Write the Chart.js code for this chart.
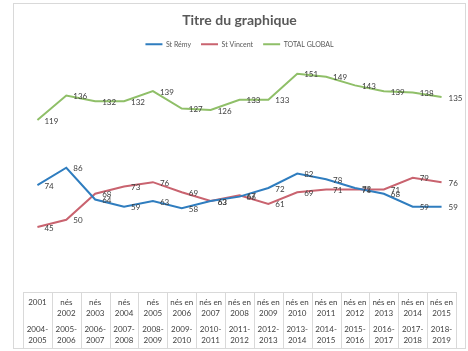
<!DOCTYPE html>
<html>
<head>
<meta charset="utf-8">
<script src="https://cdn.jsdelivr.net/npm/chart.js@4"></script>
<style>
    html, body { margin: 0; padding: 0; background: #fff; }
    #wrap { position: relative; width: 468px; height: 351px; }
    #frame { position: absolute; left: 13px; top: 3px; width: 451px; height: 344px; border: 1px solid #d9d9d9; pointer-events: none; }
</style>
</head>
<body>
<div id="wrap">
    <canvas id="chart" width="468" height="351"></canvas>
    <div id="frame"></div>
</div>
<script>
const births = [
    '2001', 'nés 2002', 'nés 2003', 'nés 2004', 'nés 2005',
    'nés en 2006', 'nés en 2007', 'nés en 2008', 'nés en 2009', 'nés en 2010',
    'nés en 2011', 'nés en 2012', 'nés en 2013', 'nés en 2014', 'nés en 2015',
];
const schoolYears = [
    '2004-2005', '2005-2006', '2006-2007', '2007-2008', '2008-2009',
    '2009-2010', '2010-2011', '2011-2012', '2012-2013', '2013-2014',
    '2014-2015', '2015-2016', '2016-2017', '2017-2018', '2018-2019',
];

const stRemy    = [ 74, 86, 64, 59, 63, 58, 63, 66, 72, 82, 78, 72, 68, 59, 59 ];
const stVincent = [ 45, 50, 68, 73, 76, 69, 63, 67, 61, 69, 71, 71, 71, 79, 76 ];
const total     = [ 119, 136, 132, 132, 139, 127, 126, 133, 133, 151, 149, 143, 139, 138, 135 ];

const COLOURS = {
    remy:    '#2f7dbf',
    vincent: '#c9636f',
    total:   '#8fbf68',
    text:    '#404040',
    grid:    '#d9d9d9',
};

const FONT = 'Lato, "Open Sans", sans-serif';

// "nés en 2006" -> ['nés en', '2006'], "2004-2005" -> ['2004-', '2005']
function wrapBirth( s ) {
    const cut = s.lastIndexOf( ' ' );
    return cut < 0 ? [ s ] : [ s.slice( 0, cut ), s.slice( cut + 1 ) ];
}
function wrapYears( s ) {
    const cut = s.indexOf( '-' ) + 1;
    return [ s.slice( 0, cut ), s.slice( cut ) ];
}

// value next to each point, right side
const valueLabels = {
    id: 'valueLabels',
    afterDatasetsDraw( chart ) {
        const { ctx } = chart;
        ctx.save();
        ctx.font = '8px ' + FONT;
        ctx.fillStyle = COLOURS.text;
        ctx.textBaseline = 'middle';
        chart.data.datasets.forEach( ( ds, i ) => {
            chart.getDatasetMeta( i ).data.forEach( ( pt, j ) => {
                ctx.fillText( String( ds.data[ j ] ), pt.x + 7, pt.y + 1 );
            } );
        } );
        ctx.restore();
    },
};

// vertical cell borders of the two-level category table
const tableLines = {
    id: 'tableLines',
    afterDraw( chart ) {
        const x = chart.scales.x;
        const step = x.getPixelForValue( 1 ) - x.getPixelForValue( 0 );
        const { ctx } = chart;
        ctx.save();
        ctx.strokeStyle = COLOURS.grid;
        ctx.lineWidth = 1;
        ctx.beginPath();
        for ( let i = 0; i <= births.length; i++ ) {
            const px = Math.round( x.getPixelForValue( i ) - step / 2 ) + 0.5;
            ctx.moveTo( px, x.top );
            ctx.lineTo( px, 348 );
        }
        ctx.stroke();
        ctx.restore();
    },
};

// a bit more room between legend and plot
const legendGap = {
    id: 'legendGap',
    beforeInit( chart ) {
        const fit = chart.legend.fit;
        chart.legend.fit = function () {
            fit.call( this );
            this.height += 3;
        };
    },
};

new Chart( document.getElementById( 'chart' ), {
    type: 'line',
    data: {
        labels: births,
        datasets: [
            { label: 'St Rémy',      data: stRemy,    borderColor: COLOURS.remy,    backgroundColor: COLOURS.remy },
            { label: 'St Vincent',   data: stVincent, borderColor: COLOURS.vincent, backgroundColor: COLOURS.vincent },
            { label: 'TOTAL GLOBAL', data: total,     borderColor: COLOURS.total,   backgroundColor: COLOURS.total },
        ],
    },
    options: {
        responsive: false,
        animation: false,
        events: [],
        layout: { padding: { left: 23, right: 12, top: 0, bottom: 5 } },
        elements: {
            line: { borderWidth: 2, tension: 0 },
            point: { radius: 0 },
        },
        plugins: {
            title: {
                display: true,
                text: 'Titre du graphique',
                color: '#595959',
                font: { family: FONT, size: 14, weight: 'bold' },
                padding: { top: 12, bottom: 2 },
            },
            legend: {
                position: 'top',
                labels: {
                    color: '#595959',
                    font: { family: FONT, size: 7 },
                    boxWidth: 17,
                    boxHeight: 0,
                    padding: 10,
                },
            },
            tooltip: { enabled: false },
        },
        scales: {
            y: { display: false, min: 0, max: 160 },
            x: {
                offset: true,
                grid: { drawOnChartArea: false, drawTicks: false },
                border: { display: true, color: COLOURS.grid },
                ticks: {
                    autoSkip: false,
                    maxRotation: 0,
                    padding: 5,
                    color: COLOURS.text,
                    font: { family: FONT, size: 8, lineHeight: 1.375 },
                    callback: ( v, i ) => wrapBirth( births[ i ] ),
                },
            },
            x2: {
                type: 'category',
                position: 'bottom',
                labels: schoolYears,
                offset: true,
                grid: { display: false, drawTicks: false },
                border: { display: false },
                ticks: {
                    autoSkip: false,
                    maxRotation: 0,
                    padding: 0,
                    color: COLOURS.text,
                    font: { family: FONT, size: 8, lineHeight: 1.375 },
                    callback: ( v, i ) => wrapYears( schoolYears[ i ] ),
                },
            },
        },
    },
    plugins: [ valueLabels, tableLines, legendGap ],
} );
</script>
</body>
</html>
